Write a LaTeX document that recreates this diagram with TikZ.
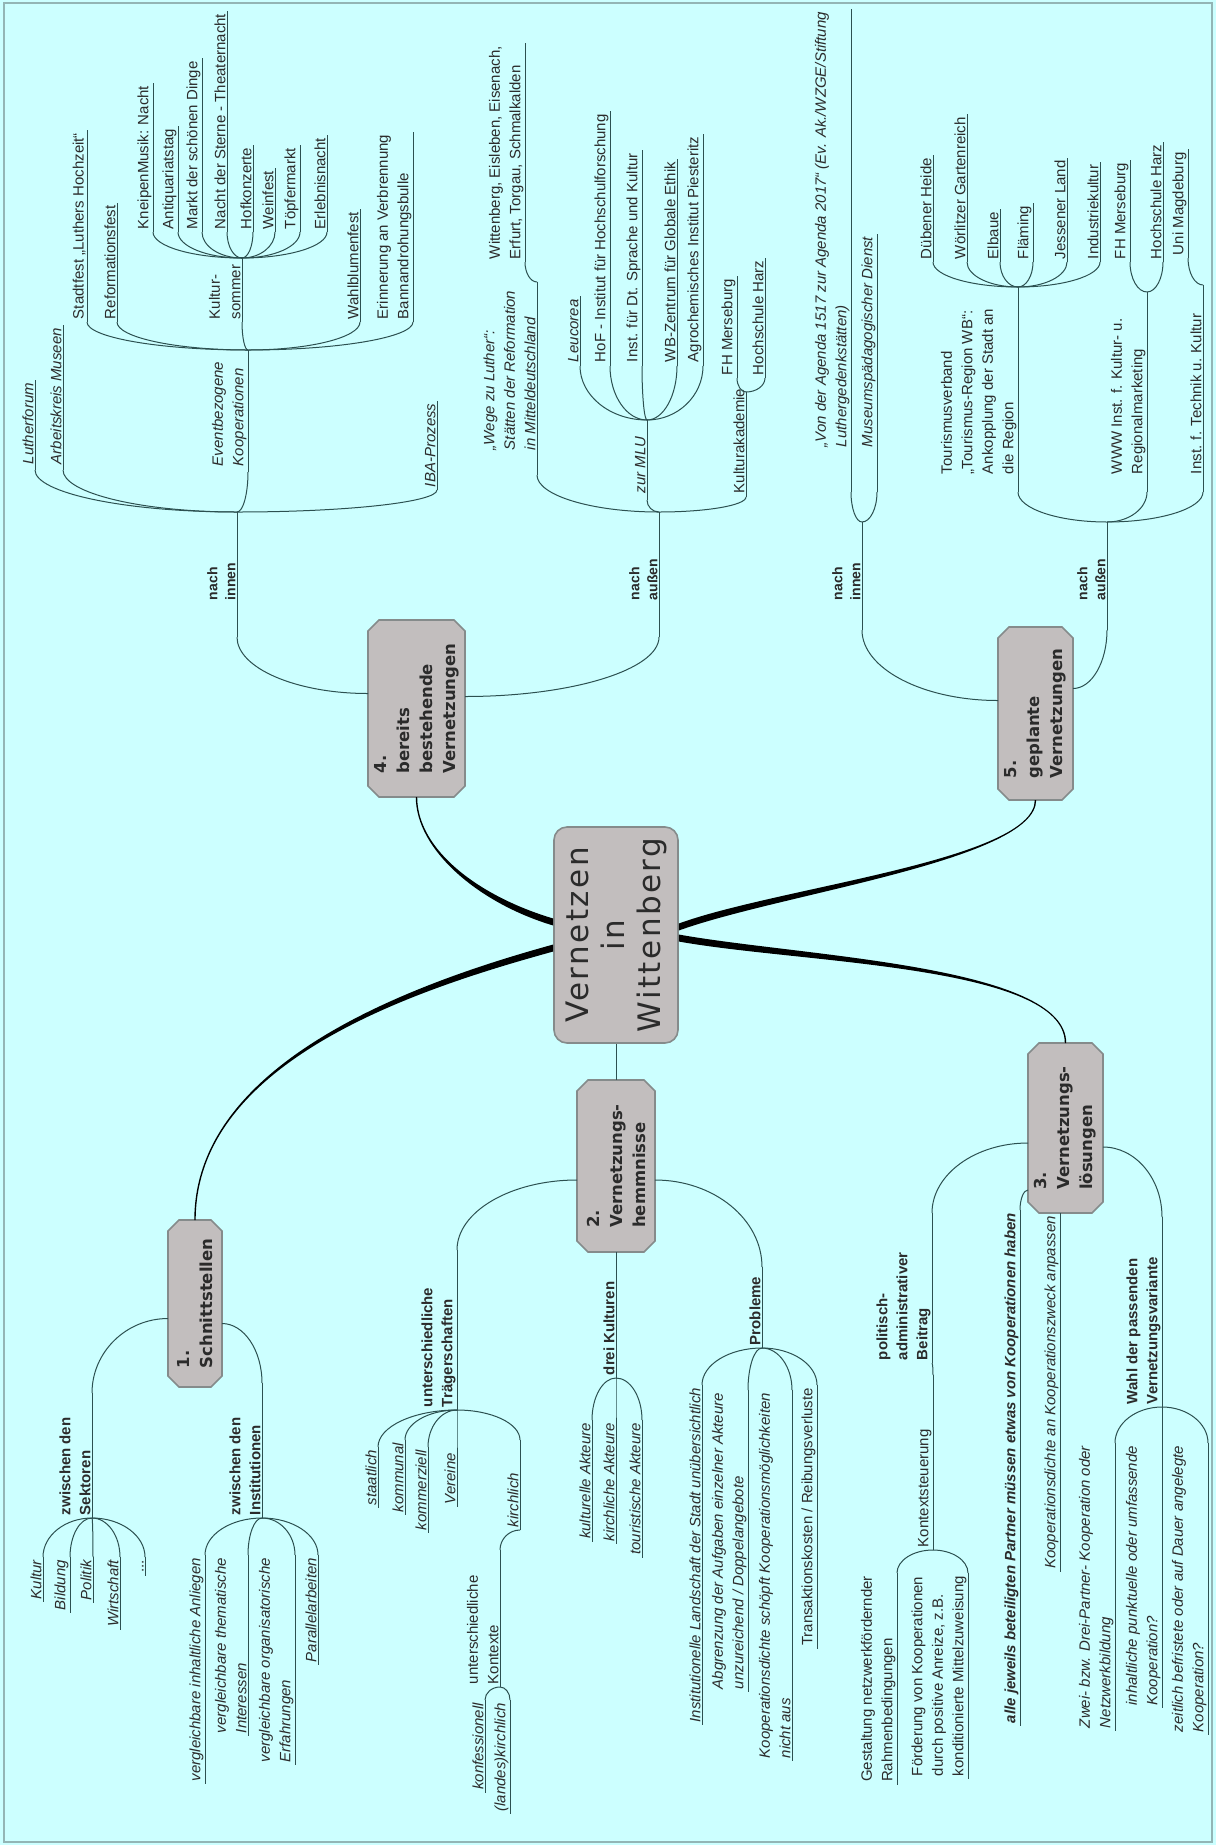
\documentclass[tikz,border=0pt]{standalone}
\usepackage{fontspec}
\setmainfont{Liberation Sans}
\newfontfamily\boxfont{DejaVu Sans}
\newfontfamily\centerfont[LetterSpace=8]{DejaVu Sans}
\usetikzlibrary{calc}
\definecolor{bgc}{HTML}{CCFFFF}
\definecolor{lnc}{HTML}{2C5050}
\definecolor{nfc}{HTML}{C2BEBE}
\definecolor{ndc}{HTML}{858B8B}
\definecolor{txc}{HTML}{2B2B2B}
\definecolor{frc}{HTML}{93B5B5}
\tikzset{
  itm/.style={rotate=90,inner sep=0pt,outer sep=0pt,align=left,text=txc,font=\fontsize{15}{20.5}\selectfont},
  it/.style={font=\fontsize{15}{20.5}\selectfont\itshape},
  bd/.style={font=\fontsize{15}{20}\selectfont\bfseries},
  bi/.style={font=\fontsize{15}{20.5}\selectfont\bfseries\itshape},
  lb/.style={font=\fontsize{14}{18}\selectfont\bfseries},
  ul/.style={draw=lnc,line width=1pt},
  lk/.style={draw=lnc,line width=1pt},
  thk/.style={fill=black},
  bxs/.style={draw=ndc,fill=nfc,line width=1.6pt},
  btx/.style={rotate=90,inner sep=0pt,align=left,text=txc,font=\boxfont\fontsize{16.5}{23}\selectfont\bfseries},
  cbox/.style={draw=ndc,fill=nfc,line width=1.6pt,rounded corners=13pt,inner sep=0pt,minimum width=124pt,minimum height=216pt},
  ctx/.style={rotate=90,align=center,inner sep=0pt,text=txc,font=\centerfont\fontsize{31}{36}\selectfont}
}
% right-branch items (near end at bottom)
\newcommand\itR[6][3]{%
  \node[itm,#3,anchor=south west] (#2) at ({#4-1.5},{#5-#1}) {#6};
  \coordinate (#2n) at (#4,#5);
  \path (#2.south east) ++(0,-3) coordinate (#2tmp);
  \coordinate (#2f) at (#2n |- #2tmp);
  \draw[ul] (#2n) -- (#2f);}
\newcommand\fkR[7][3]{%
  \node[itm,#3,anchor=south west] (#2) at ({#4-1.5},{#5-#1}) {#7};
  \coordinate (#2n) at (#4,#5);
  \coordinate (#2f) at (#4,#6);
  \draw[ul] (#2n) -- (#2f);}
% left-branch items (near end at top)
\newcommand\itL[6][3]{%
  \node[itm,#3,anchor=south east] (#2) at ({#4-1.5},{#5+#1}) {#6};
  \coordinate (#2n) at (#4,#5);
  \path (#2.south west) ++(0,3) coordinate (#2tmp);
  \coordinate (#2f) at (#2n |- #2tmp);
  \draw[ul] (#2n) -- (#2f);}
\newcommand\fkL[7][3]{%
  \node[itm,#3,anchor=south west] (#2) at ({#4-1.5},{#6-#1}) {#7};
  \coordinate (#2n) at (#4,#5);
  \coordinate (#2f) at (#4,#6);
  \draw[ul] (#2n) -- (#2f);}
\newcommand\cnx[2]{\draw[lk] (#1) .. controls ($(#1)!0.55!(#1 -| #2)$) and ($(#2)!0.55!(#2 |- #1)$) .. (#2);}
\newcommand\octbox[6]{%
  \node[inner sep=0pt,outer sep=0pt,minimum width=#4pt,minimum height=#5pt] (#1) at (#2,#3) {};
  \path[bxs] ([xshift=11pt]#1.north west) -- ([xshift=-11pt]#1.north east) -- ([yshift=-11pt]#1.north east)
    -- ([yshift=11pt]#1.south east) -- ([xshift=-11pt]#1.south east) -- ([xshift=11pt]#1.south west)
    -- ([yshift=11pt]#1.south west) -- ([yshift=-11pt]#1.north west) -- cycle;
  \node[btx] (#1t) at (#1.center) {#6};}

\begin{document}
\begin{tikzpicture}[x=1pt,y=-1pt]
\useasboundingbox (0,0) rectangle (1216,1845);
\fill[bgc] (0,0) rectangle (1216,1845);
\draw[frc,line width=2pt] (4,3) rectangle (1212,1842);

% ---------- central node and main branches ----------
\node[cbox] (c) at (616,935) {};
\node[ctx] (ct) at (c.center) {Vernetzen\\in\\Wittenberg};
\octbox{n4}{416.5}{708.5}{97}{177}{4.\\bereits\\bestehende\\Vernetzungen}
\octbox{n5}{1035.5}{713.5}{75}{173}{5.\\geplante\\Vernetzungen}
\octbox{n1}{195}{1303.5}{54}{167}{1.\\Schnittstellen}
\octbox{n2}{616}{1166}{78}{172}{2.\\Vernetzungs-\\hemmnisse}
\octbox{n3}{1065.5}{1128}{75}{170}{3.\\Vernetzungs-\\lösungen}

\coordinate (t4a) at ($(c.west)+(0,-13)$); \coordinate (t4b) at (n4.south);
\fill[thk] ($(t4a)+(0,-3.5)$) .. controls ($(t4a)+(-74,-25.5)$) and ($(t4b)+(0.7,53)$) .. ($(t4b)+(0.7,0)$)
  -- ($(t4b)+(-0.7,0)$) .. controls ($(t4b)+(-0.7,53)$) and ($(t4a)+(-74,-18.5)$) .. ($(t4a)+(0,3.5)$) -- cycle;
\coordinate (t1a) at ($(c.west)+(0,13)$); \coordinate (t1b) at (n1.north);
\fill[thk] ($(t1a)+(0,-3.5)$) .. controls ($(t1a)+(-134,33.5)$) and ($(t1b)+(-0.7,-160)$) .. ($(t1b)+(-0.7,0)$)
  -- ($(t1b)+(0.7,0)$) .. controls ($(t1b)+(0.7,-160)$) and ($(t1a)+(-134,40.5)$) .. ($(t1a)+(0,3.5)$) -- cycle;
\coordinate (t5a) at ($(c.east)+(0,-8)$); \coordinate (t5b) at (n5.south);
\fill[thk] ($(t5a)+(0,-3.5)$) .. controls ($(t5a)+(102,-40.5)$) and ($(t5b)+(-0.7,60)$) .. ($(t5b)+(-0.7,0)$)
  -- ($(t5b)+(0.7,0)$) .. controls ($(t5b)+(0.7,60)$) and ($(t5a)+(102,-33.5)$) .. ($(t5a)+(0,3.5)$) -- cycle;
\coordinate (t3a) at ($(c.east)+(0,3)$); \coordinate (t3b) at (n3.north);
\fill[thk] ($(t3a)+(0,-3.5)$) .. controls ($(t3a)+(122,18.5)$) and ($(t3b)+(0.7,-78)$) .. ($(t3b)+(0.7,0)$)
  -- ($(t3b)+(-0.7,0)$) .. controls ($(t3b)+(-0.7,-78)$) and ($(t3a)+(122,25.5)$) .. ($(t3a)+(0,3.5)$) -- cycle;
\draw[lk] (c.south) -- (n2.north);

% ---------- branch 4 ----------
\coordinate (n4l) at ($(n4.west)+(0,-15)$);
\coordinate (n4r) at ($(n4.east)+(0,-12)$);
\fkR[37]{ni}{lb}{237}{637}{512}{nach\\innen}
\fkR[37]{na}{lb}{659}{637}{512}{nach\\außen}
\cnx{n4l}{nin}
\cnx{n4r}{nan}

\itR[6]{lf}{it}{35}{470}{Lutherforum}
\itR[6]{ak}{it}{63}{470}{Arbeitskreis Museen}
\fkR[6]{ev}{it}{248}{472}{350}{Eventbezogene\\Kooperationen}
\itR[3]{iba}{it}{437}{490}{IBA-Prozess}
\cnx{nif}{lfn}\cnx{nif}{akn}\cnx{nif}{evn}\cnx{nif}{iban}

\itR{sf}{}{87}{322}{Stadtfest „Luthers Hochzeit“}
\itR{rf}{}{117}{322}{Reformationsfest}
\fkR{ksm}{}{242}{322}{258}{Kultur-\\sommer}
\itR{wbf}{}{360}{322}{Wahlblumenfest}
\itR{er}{}{413}{322}{Erinnerung an Verbrennung\\Bannandrohungsbulle}
\cnx{evf}{sfn}\cnx{evf}{rfn}\cnx{evf}{ksmn}\cnx{evf}{wbfn}\cnx{evf}{ern}

\itR{km}{}{153}{232}{KneipenMusik: Nacht}
\itR{aq}{}{178}{232}{Antiquariatstag}
\itR{md}{}{202}{232}{Markt der schönen Dinge}
\itR{ns}{}{227}{232}{Nacht der Sterne - Theaternacht}
\itR{hk}{}{253}{232}{Hofkonzerte}
\itR{wf}{}{275}{232}{Weinfest}
\itR{tm}{}{300}{232}{Töpfermarkt}
\itR{el}{}{327}{232}{Erlebnisnacht}
\cnx{ksmf}{kmn}\cnx{ksmf}{aqn}\cnx{ksmf}{mdn}\cnx{ksmf}{nsn}
\cnx{ksmf}{hkn}\cnx{ksmf}{wfn}\cnx{ksmf}{tmn}\cnx{ksmf}{eln}

\fkR[25]{wz}{it}{537}{475}{282}{„Wege zu Luther“:\\Stätten der Reformation\\in Mitteldeutschland}
\itR{wt}{}{525}{262}{Wittenberg, Eisleben, Eisenach,\\Erfurt, Torgau, Schmalkalden}
\cnx{wzf}{wtn}
\fkR[7]{ml}{it}{647}{500}{420}{zur MLU}
\fkR[4]{kak}{}{746}{497}{392}{Kulturakademie}
\cnx{naf}{wzn}\cnx{naf}{mln}\cnx{naf}{kakn}

\itR[4]{leu}{it}{580}{366}{Leucorea}
\itR[4]{hof}{}{610}{366}{HoF - Institut für Hochschulforschung}
\itR[4]{ids}{}{642}{366}{Inst. für Dt. Sprache und Kultur}
\itR[4]{wbz}{}{677}{366}{WB-Zentrum für Globale Ethik}
\itR[4]{agr}{}{703}{366}{Agrochemisches Institut Piesteritz}
\cnx{mlf}{leun}\cnx{mlf}{hofn}\cnx{mlf}{idsn}\cnx{mlf}{wbzn}\cnx{mlf}{agrn}

\itR{fh}{}{737}{378}{FH Merseburg}
\itR{hh}{}{765}{378}{Hochschule Harz}
\cnx{kakf}{fhn}\cnx{kakf}{hhn}

% ---------- branch 5 ----------
\coordinate (n5l) at ($(n5.west)+(0,-13)$);
\coordinate (n5r) at ($(n5.east)+(0,-25)$);
\fkR[30]{nfi}{lb}{862}{630}{522}{nach\\innen}
\fkR[30]{nfa}{lb}{1107}{630}{522}{nach\\außen}
\cnx{n5l}{nfin}
\cnx{n5r}{nfan}

\itR[45]{ag}{it}{851}{492}{„Von der Agenda 1517 zur Agenda 2017“ (Ev. Ak./WZGE/Stiftung\\Luthergedenkstätten)}
\itR[45]{mp}{it}{877}{492}{Museumspädagogischer Dienst}
\cnx{nfif}{agn}\cnx{nfif}{mpn}

\fkR[18]{tv}{}{1018}{492}{287}{Tourismusverband\\„Tourismus-Region WB“:\\Ankopplung der Stadt an\\die Region}
\fkR[18]{ww}{}{1147}{492}{292}{WWW Inst. f. Kultur- u.\\Regionalmarketing}
\fkR[18]{itk}{}{1203}{492}{285}{Inst. f. Technik u. Kultur}
\cnx{nfaf}{tvn}\cnx{nfaf}{wwn}\cnx{nfaf}{itkn}

\itR{dh}{}{933}{262}{Dübener Heide}
\itR{wg}{}{967}{262}{Wörlitzer Gartenreich}
\itR{eb}{}{1000}{262}{Elbaue}
\itR{fl}{}{1033}{262}{Fläming}
\itR{jl}{}{1067}{262}{Jessener Land}
\itR{ik}{}{1100}{262}{Industriekultur}
\cnx{tvf}{dhn}\cnx{tvf}{wgn}\cnx{tvf}{ebn}\cnx{tvf}{fln}\cnx{tvf}{jln}\cnx{tvf}{ikn}

\itR{fhb}{}{1130}{262}{FH Merseburg}
\itR{hhb}{}{1163}{262}{Hochschule Harz}
\cnx{wwf}{fhbn}\cnx{wwf}{hhbn}
\itR{um}{}{1188}{258}{Uni Magdeburg}
\cnx{itkf}{umn}

% ---------- branch 1 ----------
\coordinate (n1l) at ($(n1.west)+(0,15)$);
\coordinate (n1r) at ($(n1.east)+(0,20)$);
\fkL{sk}{bd}{92}{1393}{1518}{zwischen den\\Sektoren}
\fkL{ins}{bd}{262}{1383}{1518}{zwischen den\\Institutionen}
\cnx{n1l}{skn}\cnx{n1r}{insn}

\itL{kul}{it}{43}{1557}{Kultur}
\itL{bil}{it}{70}{1557}{Bildung}
\itL{pol}{it}{93}{1557}{Politik}
\itL{wir}{it}{120}{1557}{Wirtschaft}
\itL{dts}{}{145}{1557}{...}
\cnx{skf}{kuln}\cnx{skf}{biln}\cnx{skf}{poln}\cnx{skf}{wirn}\cnx{skf}{dtsn}

\itL{via}{it}{205}{1555}{vergleichbare inhaltliche Anliegen}
\itL{vti}{it}{248}{1555}{vergleichbare thematische\\Interessen}
\itL{voe}{it}{295}{1555}{vergleichbare organisatorische\\Erfahrungen}
\itL{par}{it}{318}{1555}{Parallelarbeiten}
\cnx{insf}{vian}\cnx{insf}{vtin}\cnx{insf}{voen}\cnx{insf}{parn}

% ---------- branch 2 ----------
\coordinate (n2l) at ($(n2.west)+(0,14)$);
\coordinate (n2r) at ($(n2.east)+(0,14)$);
\fkL{ut}{bd}{457}{1250}{1410}{unterschiedliche\\Trägerschaften}
\fkL{dk}{bd}{616}{1252}{1378}{drei Kulturen}
\fkL{pr}{bd}{762}{1267}{1348}{Probleme}
\cnx{n2l}{utn}\draw[lk] (n2.south) -- (dkn);\cnx{n2r}{prn}

\itL{sta}{it}{378}{1447}{staatlich}
\itL{kom}{it}{405}{1440}{kommunal}
\itL{kmz}{it}{428}{1447}{kommerziell}
\itL{ver}{it}{457}{1450}{Vereine}
\fkL{kir}{it}{520}{1440}{1530}{kirchlich}
\cnx{utf}{stan}\cnx{utf}{komn}\cnx{utf}{kmzn}\cnx{utf}{vern}\cnx{utf}{kirn}
\fkL{uk}{}{500}{1550}{1687}{unterschiedliche\\Kontexte}
\cnx{kirf}{ukn}
\itL{kf}{it}{485}{1700}{konfessionell}
\itL{lkk}{it}{510}{1700}{(landes)kirchlich}
\cnx{ukf}{kfn}\cnx{ukf}{lkkn}

\itL{kua}{it}{592}{1420}{kulturelle Akteure}
\itL{kia}{it}{616}{1420}{kirchliche Akteure}
\itL{tua}{it}{642}{1420}{touristische Akteure}
\cnx{dkf}{kuan}\cnx{dkf}{kian}\cnx{dkf}{tuan}

\itL{il}{it}{702}{1385}{Institutionelle Landschaft der Stadt unübersichtlich}
\itL{ab}{it}{748}{1390}{Abgrenzung der Aufgaben einzelner Akteure\\unzureichend / Doppelangebote}
\itL{kd}{it}{792}{1390}{Kooperationsdichte schöpft Kooperationsmöglichkeiten\\nicht aus}
\itL{tk}{}{817}{1385}{Transaktionskosten / Reibungsverluste}
\cnx{prf}{iln}\cnx{prf}{abn}\cnx{prf}{kdn}\cnx{prf}{tkn}

% ---------- branch 3 ----------
\coordinate (n3l) at ($(n3.west)+(0,15)$);
\coordinate (n3a) at ($(n3.south west)+(0,-23)$);
\coordinate (n3r) at ($(n3.east)+(0,19)$);
\fkL{pa}{bd}{932}{1213}{1363}{politisch-\\administrativer\\Beitrag}
\fkL{kst}{}{933}{1375}{1550}{Kontextsteuerung}
\cnx{n3l}{pan}\cnx{paf}{kstn}
\itL{gn}{}{897}{1573}{Gestaltung netzwerkfördernder\\Rahmenbedingungen}
\itL{fk}{}{968}{1573}{Förderung von Kooperationen\\durch positive Anreize, z.B.\\konditionierte Mittelzuweisung}
\cnx{kstf}{gnn}\cnx{kstf}{fkn}

\itL{aj}{bi}{1020}{1210}{alle jeweils beteiligten Partner müssen etwas von Kooperationen haben}
\cnx{n3a}{ajn}
\itL{kk}{it}{1060}{1213}{Kooperationsdichte an Kooperationszweck anpassen}
\draw[lk] (n3.south -| kkn) -- (kkn);

\fkL{wp}{bd}{1162}{1217}{1407}{Wahl der passenden\\Vernetzungsvariante}
\cnx{n3r}{wpn}
\itL{zd}{it}{1115}{1443}{Zwei- bzw. Drei-Partner- Kooperation oder\\Netzwerkbildung}
\itL{ip}{it}{1162}{1443}{inhaltliche punktuelle oder umfassende\\Kooperation?}
\itL{zb}{it}{1208}{1443}{zeitlich befristete oder auf Dauer angelegte\\Kooperation?}
\cnx{wpf}{zdn}\cnx{wpf}{ipn}\cnx{wpf}{zbn}
\end{tikzpicture}
\end{document}
